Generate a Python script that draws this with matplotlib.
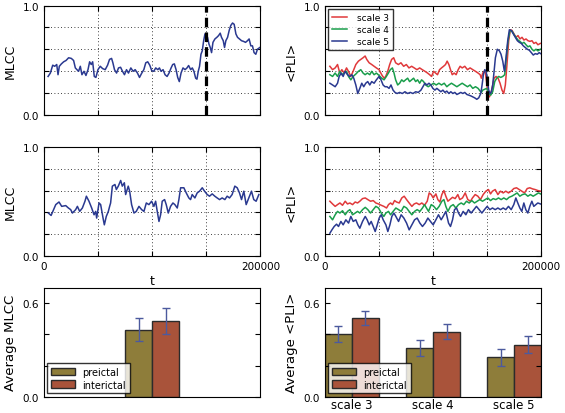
import numpy as np
from matplotlib import pyplot as plt

# time in thousands of samples
mlcc_top_t = [3.7, 5.8, 8.0, 9.8, 11.7, 12.9, 14.1, 16.0, 18.1, 20.3,
              22.7, 25.2, 27.3, 28.9, 30.4, 31.9, 33.5, 35.0, 36.9, 38.7,
              40.6, 42.1, 43.6, 44.9, 46.4, 47.9, 49.8, 51.9, 54.1, 56.5,
              58.7, 60.5, 62.4, 63.6, 65.1, 67.0, 68.8, 70.7, 72.5, 74.3,
              76.2, 78.0, 80.2, 82.3, 84.2, 86.3, 88.2, 90.3, 92.2, 94.0,
              95.8, 97.7, 99.5, 101.4, 103.2, 105.1, 106.6, 108.1, 110.0, 111.8,
              113.7, 115.5, 117.4, 118.9, 120.4, 122.0, 123.5, 125.0, 126.6, 128.4,
              130.3, 132.1, 133.6, 135.5, 137.0, 138.5, 140.1, 141.3, 142.5, 143.7,
              145.0, 146.2, 147.5, 148.7, 149.9, 151.1, 152.4, 153.6, 154.8, 156.1,
              157.9, 159.7, 161.3, 162.8, 164.0, 165.6, 166.8, 168.0, 169.6, 171.1,
              172.6, 174.2, 175.7, 177.3, 178.8, 180.6, 182.5, 184.3, 186.2, 188.0,
              189.5, 191.1, 192.6, 194.1, 195.7, 197.2, 199.4]
mlcc_top = [.352, .383, .455, .445, .461, .368, .445, .467, .486, .498,
            .523, .517, .498, .43, .414, .399, .445, .368, .399, .361,
            .414, .486, .461, .486, .352, .343, .414, .445, .424, .414,
            .455, .508, .517, .477, .414, .383, .43, .436, .399, .368,
            .414, .383, .43, .399, .414, .383, .343, .383, .414, .477,
            .486, .455, .405, .399, .43, .414, .43, .399, .414, .368,
            .352, .383, .43, .461, .467, .414, .343, .305, .383, .43,
            .414, .43, .452, .414, .43, .399, .336, .327, .399, .445,
            .555, .586, .679, .741, .726, .71, .648, .617, .57, .664,
            .695, .71, .726, .748, .71, .679, .617, .679, .71, .773,
            .819, .841, .829, .741, .71, .695, .679, .673, .664, .679,
            .695, .632, .632, .57, .555, .601, .617]

pli3_top_t = [4.6, 7.1, 9.5, 11.7, 13.8, 15.7, 17.8, 20.0, 21.8, 24.0, 26.1, 28.6,
              31.0, 33.2, 35.3, 37.2, 38.7, 40.9, 43.3, 45.5, 47.6, 50.1, 52.5, 54.7,
              56.2, 58.1, 59.9, 61.7, 63.6, 65.4, 67.9, 70.3, 72.8, 75.3, 77.7, 80.2,
              82.6, 85.1, 87.6, 90.0, 92.5, 94.9, 96.8, 98.6, 100.5, 102.3, 104.1, 106.0,
              107.8, 109.7, 111.5, 113.0, 114.6, 116.1, 117.7, 119.5, 121.3, 123.2, 125.0,
              126.9, 129.3, 131.8, 134.2, 136.7, 139.2, 141.6, 143.5, 144.6, 145.9, 147.1,
              148.4, 149.6, 150.8, 152.1, 153.3, 154.5, 156.4, 158.2, 160.1, 161.9, 163.7,
              165.3, 166.8, 168.3, 169.9, 171.4, 173.0, 174.8, 176.6, 178.5, 180.3, 182.2,
              184.0, 185.9, 187.7, 189.5, 191.4, 193.2, 195.1, 196.9, 199.1]
pli3_top = [.445, .414, .43, .461, .383, .414, .383, .43, .399, .352, .399, .461,
            .492, .508, .523, .539, .508, .477, .461, .445, .43, .414, .368, .336,
            .352, .399, .461, .508, .523, .477, .461, .477, .445, .461, .43, .445,
            .43, .414, .43, .414, .399, .383, .368, .352, .399, .383, .368, .414,
            .43, .445, .461, .492, .461, .414, .368, .383, .368, .414, .445,
            .43, .445, .414, .43, .414, .399, .383, .368, .336, .383, .399,
            .383, .29, .181, .165, .196, .243, .336, .352, .336, .29, .227,
            .196, .274, .461, .679, .779, .773, .741, .71, .726, .695, .71,
            .685, .695, .679, .673, .679, .654, .664, .642, .654]

pli4_top_t = [4.6, 7.1, 9.5, 11.7, 13.8, 15.7, 17.8, 20.0, 21.8, 24.0, 26.1, 28.6,
              31.0, 33.2, 35.3, 37.2, 39.3, 41.5, 43.3, 45.5, 47.6, 50.1, 52.5, 54.7,
              56.8, 58.7, 60.5, 62.4, 63.9, 65.4, 67.3, 69.1, 71.0, 72.8, 74.6, 76.5,
              78.3, 80.2, 82.0, 83.9, 85.7, 87.6, 89.4, 91.2, 93.1, 95.5, 98.0, 100.5,
              102.9, 105.4, 107.8, 110.3, 112.7, 114.6, 117.0, 119.5, 122.0, 124.4, 126.9,
              129.3, 131.8, 134.2, 136.7, 139.2, 141.6, 143.5, 144.7, 145.9, 149.6, 151.4,
              153.3, 155.1, 157.0, 158.8, 160.7, 162.5, 164.4, 166.2, 167.7, 169.3, 171.1,
              173.0, 174.8, 176.6, 178.5, 180.3, 182.2, 184.0, 185.9, 187.7, 189.5, 191.4,
              193.2, 195.1, 196.9, 199.1]
pli4_top = [.368, .352, .383, .352, .399, .368, .383, .399, .352, .321, .352, .374,
            .399, .414, .383, .368, .383, .368, .399, .368, .383, .361, .336, .321,
            .352, .383, .414, .43, .383, .321, .274, .29, .321, .305, .321, .336,
            .305, .321, .336, .305, .321, .29, .321, .305, .274, .258, .274, .29,
            .274, .29, .274, .29, .258, .274, .29, .274, .258, .274, .29,
            .274, .258, .274, .243, .258, .243, .218, .206, .227, .243, .196,
            .181, .212, .305, .336, .352, .343, .352, .368, .523, .679, .773,
            .766, .735, .71, .685, .673, .654, .664, .642, .623, .632, .601,
            .586, .601, .586, .601]

pli5_top_t = [4.6, 7.1, 9.5, 11.7, 13.2, 15.1, 16.9, 18.7, 20.9, 23.0, 24.9, 26.7,
              28.6, 30.4, 32.3, 34.1, 35.9, 37.8, 39.6, 41.5, 43.3, 45.5, 47.6, 50.1,
              51.9, 53.8, 55.6, 57.4, 59.3, 61.1, 63.0, 64.8, 66.7, 69.1, 71.6, 74.0,
              76.5, 78.9, 81.4, 83.9, 86.3, 88.8, 90.6, 92.5, 94.3, 96.2, 98.0, 99.8,
              101.7, 103.5, 105.4, 107.2, 109.1, 110.9, 112.7, 114.6, 116.4, 118.3, 120.1,
              122.0, 123.8, 125.6, 127.5, 129.3, 131.2, 133.0, 134.9, 136.7, 138.5, 140.4,
              142.2, 144.1, 145.3, 146.5, 147.8, 149.0, 150.2, 151.4, 152.7, 153.9, 155.1,
              156.4, 157.6, 159.4, 161.3, 162.8, 164.4, 165.9, 167.4, 169.0, 170.5, 172.3,
              174.2, 176.0, 177.9, 179.7, 181.6, 183.4, 185.2, 187.1, 188.9, 190.8, 192.6,
              194.5, 196.3, 198.1, 199.4]
pli5_top = [.29, .274, .258, .29, .352, .383, .352, .399, .368, .352, .368, .336,
            .274, .196, .243, .29, .258, .29, .305, .274, .305, .29, .321, .352,
            .321, .274, .258, .258, .243, .274, .227, .206, .196, .206, .196, .212,
            .196, .206, .196, .212, .206, .227, .258, .29, .274, .29, .274, .243,
            .227, .243, .227, .212, .227, .206, .218, .196, .212, .196, .206,
            .187, .196, .206, .196, .206, .187, .181, .174, .165, .156, .143,
            .156, .196, .274, .368, .414, .399, .321, .227, .196, .212, .274,
            .399, .523, .601, .586, .555, .492, .399, .523, .679, .779, .773,
            .741, .71, .679, .664, .654, .632, .617, .601, .592, .57, .548,
            .561, .555, .57, .561]

mlcc_mid_t = [4.0, 6.5, 10.8, 13.8, 16.3, 20.0, 22.5, 24.6, 26.2, 29.2, 30.8, 32.9,
              35.4, 37.8, 39.1, 41.5, 44.0, 46.2, 47.7, 48.6, 50.8, 52.3, 54.8, 55.7,
              57.5, 59.4, 60.6, 61.5, 63.1, 65.5, 66.8, 68.6, 70.8, 72.3, 74.2, 75.4,
              77.8, 79.1, 80.9, 83.1, 85.2, 87.7, 90.2, 92.3, 94.5, 96.9, 99.4, 101.5,
              103.1, 104.6, 106.2, 107.7, 109.2, 111.4, 112.9, 114.8, 116.9, 119.1, 120.9,
              123.1, 124.6, 126.2, 129.2, 131.4, 133.8, 135.4, 136.9, 139.4, 141.5, 143.7,
              146.2, 148.3, 150.8, 152.9, 155.4, 157.8, 160.0, 162.2, 164.6, 167.1, 169.2,
              171.4, 173.8, 176.3, 178.5, 180.6, 182.5, 184.6, 186.8, 189.2, 191.7, 193.8,
              196.0, 198.5]
mlcc_mid = [.394, .372, .471, .495, .455, .462, .44, .425, .394, .425, .455, .409,
            .44, .502, .548, .502, .44, .378, .409, .348, .486, .471, .332, .286,
            .363, .409, .455, .486, .64, .655, .609, .64, .692, .64, .671, .563,
            .64, .594, .471, .394, .409, .455, .425, .409, .486, .471, .502, .455,
            .502, .409, .317, .378, .502, .517, .471, .394, .455, .486, .471,
            .44, .517, .625, .625, .578, .532, .517, .563, .532, .578, .594,
            .625, .594, .563, .548, .569, .548, .532, .517, .532, .517, .548,
            .532, .563, .64, .625, .578, .517, .594, .471, .532, .594, .517,
            .502, .563]

pli3_mid_t = [4.6, 7.1, 9.5, 11.7, 13.9, 16.3, 18.8, 20.9, 23.1, 25.6, 28.0, 30.2,
              32.3, 34.8, 37.3, 39.7, 42.2, 44.7, 47.1, 49.6, 52.1, 54.5, 57.0, 58.8,
              60.7, 62.5, 64.4, 66.2, 68.7, 71.1, 73.3, 75.5, 77.9, 80.4, 82.5, 84.7,
              87.2, 89.6, 92.1, 94.6, 96.4, 98.3, 100.1, 102.6, 104.4, 106.3, 108.1, 110.0,
              111.8, 113.7, 115.5, 118.0, 120.4, 122.9, 124.7, 127.2, 129.7, 132.1, 134.6,
              136.4, 138.9, 141.4, 143.8, 146.3, 148.8, 151.2, 153.1, 154.9, 157.4, 159.9,
              162.3, 164.8, 167.2, 169.7, 172.2, 174.6, 177.1, 179.6, 182.0, 184.5, 187.0,
              189.4, 191.9, 194.3, 196.8, 199.3]
pli3_mid = [.502, .477, .455, .471, .486, .465, .502, .477, .486, .471, .495, .486,
            .502, .526, .532, .517, .502, .508, .486, .477, .465, .455, .44, .471,
            .486, .471, .508, .495, .486, .532, .548, .517, .486, .455, .477, .486,
            .471, .486, .465, .502, .578, .563, .532, .569, .517, .495, .563, .6,
            .548, .502, .517, .538, .526, .563, .517, .532, .578, .517, .502,
            .532, .563, .548, .517, .563, .594, .609, .569, .594, .609, .563,
            .594, .578, .594, .578, .594, .618, .625, .609, .594, .578, .618,
            .625, .615, .609, .6, .594]

pli4_mid_t = [4.6, 7.1, 9.5, 11.7, 13.9, 16.3, 18.8, 20.9, 23.1, 25.6, 28.0, 30.2,
              32.3, 34.8, 37.3, 39.7, 42.2, 44.7, 47.1, 49.6, 52.1, 54.5, 56.4, 58.8,
              60.7, 63.1, 65.6, 68.1, 70.5, 73.0, 75.5, 77.9, 80.4, 82.9, 85.3, 87.8,
              90.2, 92.1, 93.9, 95.8, 98.3, 100.7, 103.2, 105.6, 108.1, 110.0, 111.8, 113.7,
              116.1, 118.6, 121.0, 123.5, 126.0, 128.4, 130.9, 133.4, 135.8, 138.3, 140.8,
              143.2, 145.7, 148.1, 150.6, 153.1, 155.5, 158.0, 160.5, 162.9, 165.4, 167.9,
              170.3, 172.8, 175.3, 177.7, 180.2, 182.6, 185.1, 187.6, 190.0, 192.5, 195.0,
              197.4, 199.3]
pli4_mid = [.363, .332, .378, .409, .394, .415, .378, .409, .425, .378, .394, .409,
            .394, .425, .446, .425, .394, .425, .455, .44, .394, .363, .394, .409,
            .378, .409, .44, .425, .409, .455, .44, .409, .378, .409, .425, .409,
            .44, .471, .44, .409, .471, .455, .425, .455, .502, .517, .455, .409,
            .455, .471, .44, .471, .486, .471, .502, .486, .508, .486, .502,
            .517, .502, .517, .532, .508, .526, .517, .532, .517, .532, .517,
            .538, .548, .563, .578, .548, .563, .569, .548, .563, .548, .563,
            .578, .569]

pli5_mid_t = [4.6, 6.5, 8.6, 10.8, 12.6, 14.8, 16.9, 19.4, 21.9, 24.0, 26.2, 28.6,
              30.5, 32.3, 34.8, 37.3, 39.1, 41.0, 42.8, 44.7, 46.5, 48.4, 50.2, 52.1,
              53.9, 56.4, 58.2, 60.1, 61.9, 63.8, 65.6, 68.1, 70.5, 73.0, 75.5, 77.9,
              80.4, 82.9, 85.3, 87.8, 90.2, 92.7, 95.2, 97.6, 100.1, 102.6, 105.0, 107.5,
              109.3, 111.8, 114.3, 116.1, 118.0, 119.8, 121.7, 123.5, 125.4, 127.8, 130.3,
              132.7, 135.2, 137.7, 140.1, 142.6, 145.1, 147.5, 150.0, 152.5, 154.9, 157.4,
              159.9, 162.3, 164.8, 167.2, 169.7, 172.2, 174.6, 176.5, 178.3, 180.2, 182.0,
              183.9, 185.7, 187.6, 189.4, 191.3, 193.1, 195.0, 196.8, 199.3]
pli5_mid = [.209, .24, .271, .292, .271, .317, .286, .332, .302, .363, .317, .332,
            .286, .255, .317, .363, .332, .286, .317, .271, .225, .286, .348, .378,
            .332, .286, .225, .286, .363, .394, .363, .317, .378, .348, .302, .24,
            .286, .332, .348, .302, .271, .302, .348, .317, .286, .332, .378, .332,
            .363, .409, .302, .271, .332, .425, .44, .394, .363, .409, .378,
            .425, .394, .425, .455, .425, .394, .425, .455, .425, .44, .425,
            .44, .425, .44, .425, .455, .425, .471, .532, .486, .44, .409,
            .486, .425, .394, .455, .502, .455, .471, .486, .477]

seizure_t = 150.0

scales = ["scale 3", "scale 4", "scale 5"]
groups = ["preictal", "interictal"]
mlcc_mean = [0.43, 0.487]
mlcc_err = [0.074, 0.083]
pli_pre_mean = [0.402, 0.313, 0.253]
pli_pre_err = [0.051, 0.05, 0.056]
pli_inter_mean = [0.504, 0.417, 0.334]
pli_inter_err = [0.045, 0.048, 0.053]

red = "#e0393b"
green = "#1a9e4c"
blue = "#2a3990"
c_pre = "#8e7d3a"
c_inter = "#a9533a"
edge = "#2b2b2b"
err_c = "#4c5a9e"

plt.rcParams["xtick.direction"] = "in"
plt.rcParams["ytick.direction"] = "in"
plt.rcParams["xtick.top"] = True
plt.rcParams["ytick.right"] = True
plt.rcParams["font.size"] = 7.5

fig = plt.figure(figsize=(5.65, 4.14), dpi=100)
left, right = 0.078, 0.575
w = 0.383
h = 0.264
ax1 = fig.add_axes([left, 0.72, w, h])
ax2 = fig.add_axes([right, 0.72, w, h])
ax3 = fig.add_axes([left, 0.379, w, h])
ax4 = fig.add_axes([right, 0.379, w, h])
ax5 = fig.add_axes([left, 0.039, w, h])
ax6 = fig.add_axes([right, 0.039, w, h])


def ts_style(ax, ylab, xlabels):
    ax.set_xlim(0, 200000)
    ax.set_ylim(0, 1)
    ax.set_yticks([0, 0.2, 0.4, 0.6, 0.8, 1.0])
    ax.set_yticklabels(["0.0", "", "", "", "", "1.0"])
    ax.set_xticks([0, 50000, 100000, 150000, 200000])
    if xlabels:
        ax.set_xticklabels(["0", "", "", "", "200000"])
        ax.set_xlabel("t", fontsize=9, labelpad=2)
    else:
        ax.set_xticklabels([])
    ax.grid(True, color="k", linestyle=(0, (1, 3)), linewidth=0.6)
    ax.set_ylabel(ylab, fontsize=9)


k = 1000.0
ax1.plot(np.array(mlcc_top_t) * k, mlcc_top, color=blue, lw=1.1)
ax1.axvline(seizure_t * k, color="k", lw=2.3, dashes=(3, 1.6))
ts_style(ax1, "MLCC", False)

ax2.plot(np.array(pli3_top_t) * k, pli3_top, color=red, lw=1.1, label="scale 3")
ax2.plot(np.array(pli4_top_t) * k, pli4_top, color=green, lw=1.1, label="scale 4")
ax2.plot(np.array(pli5_top_t) * k, pli5_top, color=blue, lw=1.1, label="scale 5")
ax2.axvline(seizure_t * k, color="k", lw=2.3, dashes=(3, 1.6))
ts_style(ax2, "<PLI>", False)
leg = ax2.legend(loc="upper left", fontsize=6.5, handlelength=1.6, fancybox=False,
                 borderaxespad=0.4, labelspacing=0.35, handletextpad=1.2)
leg.get_frame().set_edgecolor("k")

ax3.plot(np.array(mlcc_mid_t) * k, mlcc_mid, color=blue, lw=1.1)
ts_style(ax3, "MLCC", True)

ax4.plot(np.array(pli3_mid_t) * k, pli3_mid, color=red, lw=1.1)
ax4.plot(np.array(pli4_mid_t) * k, pli4_mid, color=green, lw=1.1)
ax4.plot(np.array(pli5_mid_t) * k, pli5_mid, color=blue, lw=1.1)
ts_style(ax4, "<PLI>", True)

# bar charts
bw = 1.0 / 3
ax5.bar([1.0], [mlcc_mean[0]], bw, align="edge", color=c_pre, edgecolor=edge,
        lw=1.0, label=groups[0])
ax5.bar([1.0 + bw], [mlcc_mean[1]], bw, align="edge", color=c_inter, edgecolor=edge,
        lw=1.0, label=groups[1])
ax5.errorbar([1.0 + bw / 2, 1.0 + 1.5 * bw], mlcc_mean, yerr=mlcc_err, fmt="none",
             ecolor=err_c, capsize=3, elinewidth=1.0)

xs = np.arange(len(scales))
ax6.bar(xs, pli_pre_mean, bw, align="edge", color=c_pre, edgecolor=edge, lw=1.0,
        label=groups[0])
ax6.bar(xs + bw, pli_inter_mean, bw, align="edge", color=c_inter, edgecolor=edge,
        lw=1.0, label=groups[1])
ax6.errorbar(xs + bw / 2, pli_pre_mean, yerr=pli_pre_err, fmt="none", ecolor=err_c,
             capsize=3, elinewidth=1.0)
ax6.errorbar(xs + 1.5 * bw, pli_inter_mean, yerr=pli_inter_err, fmt="none",
             ecolor=err_c, capsize=3, elinewidth=1.0)

for ax, ylab in [(ax5, "Average MLCC"), (ax6, "Average <PLI>")]:
    ax.set_xlim(0, 8.0 / 3)
    ax.set_ylim(0, 0.7)
    ax.set_yticks([0, 0.2, 0.4, 0.6])
    ax.set_yticklabels(["0.0", "", "", "0.6"])
    ax.set_ylabel(ylab, fontsize=9.5)
    lg = ax.legend(loc="lower left", fontsize=7, fancybox=False, handlelength=2.4,
                   handleheight=0.8, borderaxespad=0.35, labelspacing=0.3)
    lg.get_frame().set_edgecolor("k")

ax5.set_xticks([])
ax6.set_xticks(xs + bw)
ax6.set_xticklabels(scales, fontsize=8.5)
ax6.tick_params(axis="x", length=0, pad=1)

plt.savefig("out.png", dpi=100)
